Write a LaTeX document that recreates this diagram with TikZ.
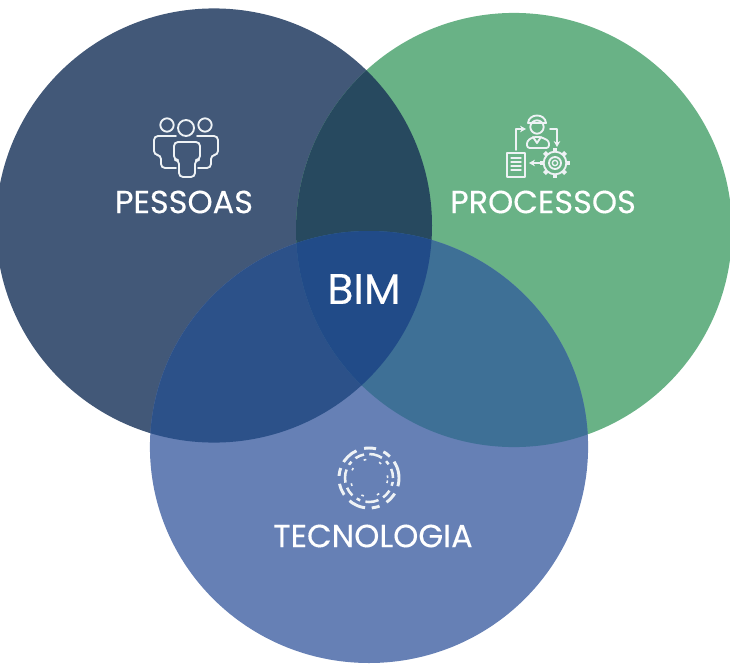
\documentclass[tikz,border=0pt]{standalone}
\usepackage{fontspec}
\setmainfont[FakeBold=0.25]{Poppins}
\usetikzlibrary{arrows.meta}
\definecolor{cDark}{HTML}{425878}
\definecolor{cGreen}{HTML}{69B286}
\definecolor{cBlue}{HTML}{6680B5}
\definecolor{cDG}{HTML}{27495F}
\definecolor{cDB}{HTML}{2C5189}
\definecolor{cGB}{HTML}{3E7096}
\definecolor{cAll}{HTML}{214B88}
\definecolor{cInk}{HTML}{EEF2F5}
\tikzset{
  x=0.75pt,y=-0.75pt,
  label text/.style={text=white,font=\fontsize{24}{28}\selectfont,inner sep=0pt},
  icon/.style={draw=cInk,line width=1.4pt,line join=round,line cap=round,fill=none},
  iconarrow/.style={icon,-{Stealth[length=4.5pt,width=5pt]}}
}
\newcommand{\cA}{(214,225.5) ellipse [x radius=163.5pt,y radius=162.8pt]}
\newcommand{\cB}{(514,230) ellipse [x radius=163.5pt,y radius=162.8pt]}
\newcommand{\cC}{(369,447) ellipse [x radius=164.3pt,y radius=162pt]}
\begin{document}
\begin{tikzpicture}
\useasboundingbox (0,0) rectangle (730,663);
\clip (0,0) rectangle (730,663);
\fill[cDark] \cA;
\fill[cGreen] \cB;
\fill[cBlue] \cC;
\begin{scope}\clip \cA; \fill[cDG] \cB; \end{scope}
\begin{scope}\clip \cA; \fill[cDB] \cC; \end{scope}
\begin{scope}\clip \cB; \fill[cGB] \cC; \end{scope}
\begin{scope}\clip \cA; \clip \cB; \fill[cAll] \cC; \end{scope}
% labels
\node[label text] (pessoas) at (184,202) {PESSOAS};
\node[label text] (processos) at (543,202) {PROCESSOS};
\node[label text] (tecnologia) at (373,536) {TECNOLOGIA};
\node[label text,font=\fontsize{32}{36}\selectfont] (bim) at (364,289) {BIM};
% people icon
\draw[icon] (186,128) circle [radius=6pt];
\draw[icon] (167,125) circle [radius=5pt];
\draw[icon] (205,125) circle [radius=5pt];
\draw[icon,rounded corners=3pt] (174,142) -- (200,142) -- (200,160) -- (195,160) -- (195,177) -- (179,177) -- (179,160) -- (174,160) -- cycle;
\draw[icon,rounded corners=3pt] (176,136) -- (154,136) -- (154,155) -- (161,155) -- (161,168) -- (176,168);
\draw[icon,rounded corners=3pt] (197,136) -- (218,136) -- (218,155) -- (211,155) -- (211,168) -- (198,168);
% process icon
\draw[icon] (537,127) circle [radius=5pt];
\draw[icon] (528,123) .. controls (529,113) and (545,113) .. (546,123) -- cycle;
\draw[icon,rounded corners=2pt] (527,148) -- (527,141) -- (533,137) -- (541,137) -- (549,141) -- (549,148) -- cycle;
\draw[icon] (533,137) -- (537,143) -- (541,137);
\draw[icon] (507,153) rectangle (525,177);
\foreach \yy in {158,162,166,170} \draw[icon,line width=1pt] (511,\yy) -- (521,\yy);
\draw[iconarrow] (516,150) -- (516,129) -- (526,129);
\draw[iconarrow] (550,129) -- (557,129) -- (557,147);
\draw[iconarrow] (541,163) -- (529,163);
\draw[icon] (555,163) circle [radius=8.5pt];
\foreach \a in {0,45,...,315}
  \draw[icon,line width=3pt,line cap=butt] (555,163) ++(\a:11) -- ++(\a:4);
\draw[icon] (555,163) circle [radius=4.5pt];
\draw[icon,line width=1pt] (555,163) circle [radius=2pt];
% technology icon
\draw[icon,line width=2.2pt,line cap=butt,dash pattern=on 13pt off 5pt on 6pt off 6pt on 9pt off 6pt] (369,478) circle [radius=22.5pt];
\draw[icon,line width=1.9pt,line cap=butt,dash pattern=on 7pt off 4pt on 3pt off 4pt on 10pt off 4pt] (369,478) circle [radius=18pt];
\draw[icon,line width=1.2pt,line cap=butt,dash pattern=on 2pt off 10pt] (369,478) circle [radius=14pt];
\end{tikzpicture}
\end{document}
